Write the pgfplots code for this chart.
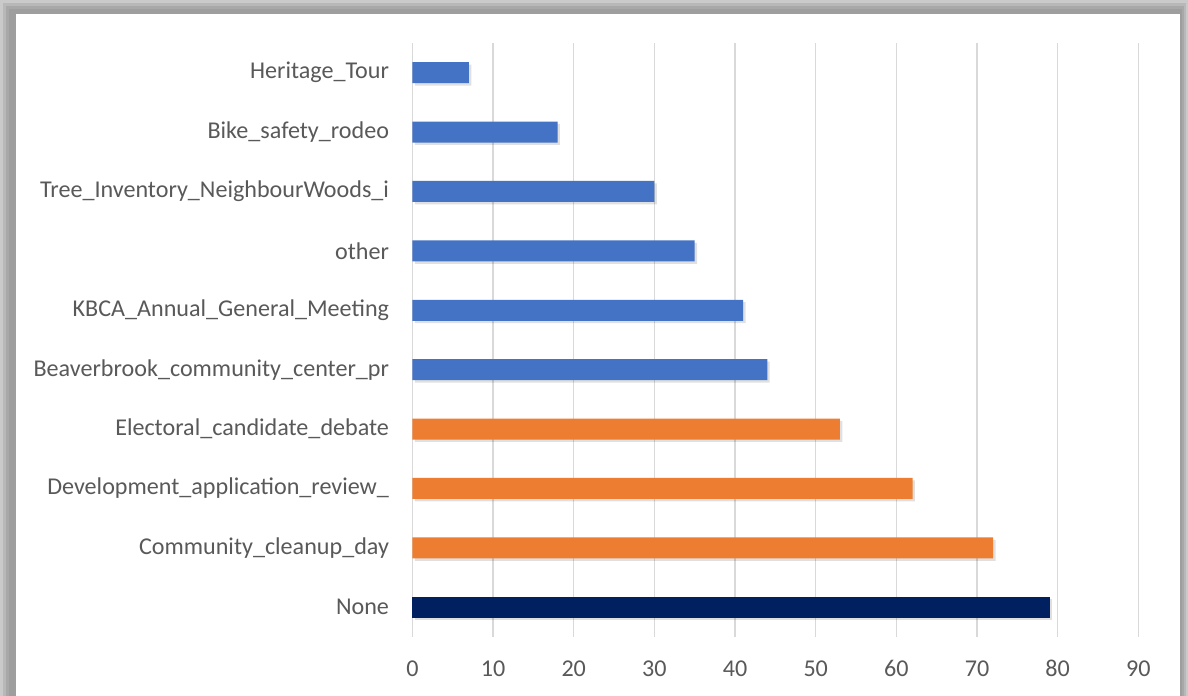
\documentclass[border=0pt]{standalone}
\usepackage{fontspec}
\setmainfont{Carlito}
\usepackage{pgfplots}
\pgfplotsset{compat=1.18}
\usetikzlibrary{shadows}
\definecolor{bblue}{HTML}{4472C4}
\definecolor{borange}{HTML}{ED7D31}
\definecolor{bnavy}{HTML}{002060}
\definecolor{lbl}{HTML}{595959}
\definecolor{gridc}{HTML}{D9D9D9}
\definecolor{f1}{HTML}{CACACA}
\definecolor{f2}{HTML}{B8B8B8}
\definecolor{f3}{HTML}{A8A8A8}
\definecolor{f4}{HTML}{9E9E9E}
\begin{document}
\begin{tikzpicture}
\useasboundingbox (0,0) rectangle (594bp,348bp);
\fill[f1] (0,0) rectangle (594bp,348bp);
\fill[f2] (1.5bp,0) rectangle (593bp,346.5bp);
\fill[f3] (3bp,0) rectangle (592bp,345bp);
\fill[f4] (4.5bp,0) rectangle (591bp,343.5bp);
\fill[white] (8bp,-5bp) rectangle (590bp,341bp);
\begin{axis}[
  at={(206.2bp,29.5bp)}, anchor=south west,
  scale only axis, width=363bp, height=297bp,
  xmin=0, xmax=90, ymin=-0.5, ymax=9.5,
  xbar, bar width=10.5bp,
  xtick={0,10,...,90}, ytick={0,...,9},
  yticklabels={None,Community\_cleanup\_day,Development\_application\_review\_,Electoral\_candidate\_debate,Beaverbrook\_community\_center\_pr,KBCA\_Annual\_General\_Meeting,other,Tree\_Inventory\_NeighbourWoods\_i,Bike\_safety\_rodeo,Heritage\_Tour},
  xmajorgrids, major grid style={draw=gridc, line width=0.75bp},
  axis line style={draw=none}, major tick length=0pt, tick style={draw=none},
  ticklabel style={font=\fontsize{12.1}{14}\selectfont, text=lbl},
  /pgf/number format/assume math mode=true,
  y tick label style={anchor=east, inner sep=0pt, xshift=-11.5bp},
  x tick label style={anchor=north, inner sep=0pt, yshift=-11.5bp},
  clip=false,
  every axis plot/.append style={drop shadow={fill=black, opacity=0.12, shadow xshift=1.2bp, shadow yshift=-1.2bp}},
]
\addplot[fill=bnavy, draw=none, bar shift=0pt] coordinates {(79,0)};
\addplot[fill=borange, draw=none, bar shift=0pt] coordinates {(72,1) (62,2) (53,3)};
\addplot[fill=bblue, draw=none, bar shift=0pt] coordinates {(44,4) (41,5) (35,6) (30,7) (18,8) (7,9)};
\end{axis}
\end{tikzpicture}
\end{document}
